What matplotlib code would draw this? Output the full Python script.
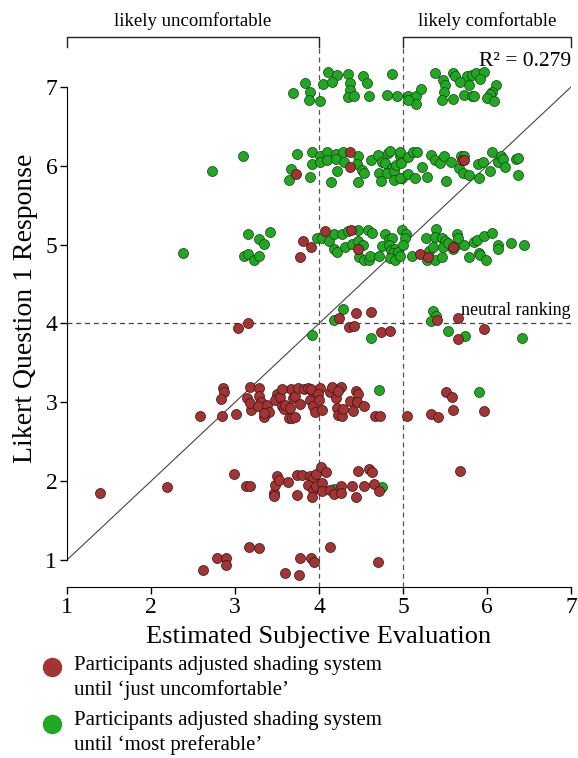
import matplotlib
matplotlib.use("Agg")
import matplotlib.pyplot as plt
from matplotlib.lines import Line2D

plt.rcParams['font.family'] = ['Liberation Serif', 'DejaVu Serif']

# estimated subjective evaluation (x) and Likert response (y)
red_x = [
    # row 6 / 5 / 4
    3.73, 4.37, 4.37, 5.70, 5.73,
    3.81, 3.90, 3.77, 4.07, 4.38, 4.47, 5.20, 5.30, 5.59,
    3.03, 3.16, 4.24, 4.36, 4.42, 4.44, 4.62, 4.74, 4.85, 5.41, 5.66, 5.96, 5.65,
    # row 3
    2.58, 2.84, 3.01, 2.86, 2.87, 2.83, 3.18, 3.29, 3.19, 3.14, 3.18, 3.29, 3.31, 3.27,
    3.38, 3.40, 3.35, 3.34, 3.50, 3.48, 3.54, 3.56, 3.58, 3.60, 3.66, 3.67, 3.56, 3.69,
    3.71, 3.77, 3.75, 3.82, 3.87, 3.89, 3.92, 3.93, 3.95, 3.90, 4.01, 3.99, 4.00, 4.04,
    3.64, 3.68, 3.71, 4.13, 4.16, 4.20, 4.21, 4.23, 4.27, 4.26, 4.29, 4.23, 4.37, 4.41,
    4.44, 4.47, 4.45, 4.53, 4.67, 4.73, 5.05, 5.33, 5.42, 5.51, 5.58, 5.59, 5.96,
    # row 2
    1.39, 2.19, 2.99, 3.13, 3.18, 3.47, 3.46, 3.48, 3.50, 3.52, 3.63, 3.74, 3.80, 3.74,
    3.89, 3.93, 3.97, 4.02, 4.08, 3.87, 3.93, 3.92, 3.97, 4.03, 4.03, 4.13, 4.18, 4.26,
    4.26, 4.39, 4.44, 4.46, 4.54, 4.60, 4.63, 4.66, 4.71, 5.68,
    # row 1
    2.62, 2.78, 2.89, 2.89, 3.17, 3.28, 3.60, 3.76, 3.77, 3.90, 3.94, 4.13, 4.70,
]
red_y = [
    5.90, 6.18, 5.99, 6.07, 6.08,
    5.05, 4.97, 4.84, 5.17, 5.19, 4.95, 4.88, 4.84, 4.97,
    3.94, 4.01, 4.07, 3.95, 3.97, 4.13, 4.15, 3.89, 3.90, 4.04, 4.07, 3.93, 3.80,
    2.83, 2.82, 2.85, 3.18, 3.13, 3.04, 3.19, 3.18, 2.90, 3.06, 2.99, 3.08, 3.01, 2.95,
    2.97, 2.88, 2.81, 2.87, 3.11, 3.03, 3.07, 2.95, 2.92, 2.97, 2.93, 3.17, 3.17, 3.05,
    3.08, 2.98, 3.18, 3.17, 3.18, 3.03, 3.14, 2.95, 2.88, 3.17, 3.18, 3.11, 3.03, 2.90,
    2.80, 2.80, 2.81, 3.13, 3.19, 3.05, 2.93, 2.84, 2.83, 3.19, 2.91, 3.14, 3.02, 2.89,
    3.14, 3.11, 3.01, 2.95, 2.82, 2.82, 2.83, 2.85, 2.81, 3.13, 3.07, 2.90, 2.89,
    1.85, 1.92, 2.09, 1.94, 1.94, 1.85, 1.81, 1.95, 2.06, 2.01, 1.99, 2.08, 2.08, 1.83,
    2.07, 2.04, 2.09, 2.18, 2.11, 1.95, 1.89, 1.80, 1.94, 1.98, 1.88, 1.89, 1.84, 1.94,
    1.85, 1.94, 1.80, 2.13, 1.94, 2.15, 2.12, 1.96, 1.88, 2.13,
    0.87, 1.03, 1.02, 0.94, 1.16, 1.15, 0.83, 0.81, 1.03, 1.02, 0.98, 1.16, 0.97,
]

green_x = [
    # row 7
    4.11, 4.21, 4.35, 4.52, 4.87, 3.83, 4.05, 4.15, 4.37, 4.57, 3.69, 3.89, 4.37, 3.88,
    4.01, 4.35, 4.42, 4.60, 4.81, 4.93, 5.06, 5.15, 5.22, 5.16, 5.06,
    5.38, 5.59, 5.62, 5.76, 5.82, 5.87, 5.96, 5.92, 5.48, 5.50, 5.68, 5.78, 6.11, 5.49,
    6.06, 6.04, 5.73, 5.82, 5.84, 5.47, 5.59, 6.00, 6.08,
    # row 6
    2.73, 3.10, 3.74, 3.67, 3.64, 3.89, 3.92, 3.92, 4.01, 4.01, 4.09, 4.10, 4.20, 4.20,
    4.28, 4.30, 4.21, 4.14, 4.47, 4.45, 4.51, 4.54, 4.46, 4.62, 4.70, 4.71, 4.74, 4.75,
    4.79, 4.82, 4.85, 4.87, 4.81, 4.89, 4.89, 4.92, 4.96, 4.97, 4.98, 4.99, 4.96, 5.06,
    5.06, 5.12, 5.17, 5.14, 5.23, 5.29, 5.33, 5.38, 5.44, 5.49, 5.51, 5.57, 5.67, 5.69,
    5.73, 5.72, 5.78, 5.91, 5.89, 5.95, 6.04, 6.06, 6.13, 6.17, 6.19, 6.21, 6.35, 6.37,
    6.37,
    # row 5
    2.38, 3.16, 3.29, 3.35, 3.42, 3.11, 3.15, 3.23, 3.29, 3.98, 4.03, 4.12, 4.18, 4.27,
    4.34, 4.47, 4.18, 4.22, 4.31, 4.39, 4.46, 4.52, 4.48, 4.53, 4.60, 4.61, 4.58, 4.63,
    4.71, 4.75, 4.79, 4.83, 4.87, 4.83, 4.86, 4.90, 4.88, 4.94, 4.85, 4.90, 4.97, 4.99,
    5.03, 5.02, 5.00, 5.11, 5.27, 5.31, 5.36, 5.39, 5.38, 5.47, 5.50, 5.48, 5.53, 5.59,
    5.63, 5.64, 5.65, 5.73, 5.78, 5.84, 5.88, 5.90, 5.92, 5.96, 5.99, 6.06, 6.13, 6.13,
    6.29, 6.44, 5.29, 5.38, 5.46,
    # row 4
    4.28, 4.18, 3.92, 4.62, 5.36, 5.39, 5.33, 5.54, 5.74, 6.42,
    # rows 3 and 2
    4.71, 5.90, 4.18, 4.75,
]
green_y = [
    7.19, 7.15, 7.17, 7.14, 7.16, 7.05, 7.04, 7.06, 7.05, 7.05, 6.93, 6.94, 6.96, 6.84,
    6.82, 6.87, 6.88, 6.88, 6.90, 6.89, 6.89, 6.89, 6.98, 6.79, 6.84,
    7.18, 7.18, 7.14, 7.14, 7.15, 7.18, 7.19, 7.10, 7.09, 7.02, 7.06, 7.03, 7.03, 6.94,
    6.94, 6.91, 6.90, 6.88, 6.88, 6.84, 6.85, 6.86, 6.82,
    5.93, 6.13, 6.15, 5.96, 5.82, 5.86, 6.17, 6.02, 6.12, 6.05, 6.17, 6.07, 6.15, 6.09,
    6.17, 6.05, 5.93, 5.80, 6.12, 6.02, 5.95, 5.91, 5.80, 6.07, 6.14, 5.91, 5.81, 6.05,
    6.04, 6.16, 6.19, 5.97, 5.91, 5.93, 5.82, 6.01, 6.13, 6.18, 6.03, 5.84, 5.84, 6.11,
    5.89, 6.18, 6.18, 5.84, 5.98, 5.86, 6.14, 6.07, 6.03, 6.12, 5.81, 6.05, 5.97, 6.12,
    6.13, 5.91, 5.88, 5.85, 6.02, 6.05, 5.94, 6.17, 6.05, 6.12, 6.09, 5.99, 6.09, 6.10,
    5.88,
    4.89, 5.14, 5.07, 5.01, 5.16, 4.85, 4.88, 4.81, 4.85, 5.08, 5.08, 5.05, 5.14, 5.14,
    5.17, 5.18, 4.95, 4.91, 4.97, 5.01, 5.04, 5.00, 4.84, 4.81, 4.80, 4.86, 5.18, 5.15,
    4.86, 4.98, 5.14, 5.07, 5.08, 5.00, 4.93, 4.95, 4.89, 4.91, 4.83, 4.81, 4.85, 5.19,
    5.14, 5.08, 5.00, 4.86, 5.08, 4.92, 4.97, 5.20, 5.10, 5.08, 5.04, 4.97, 5.02, 4.94,
    5.00, 5.14, 5.08, 4.99, 4.84, 5.03, 5.06, 4.89, 4.87, 5.11, 4.80, 5.15, 5.00, 4.94,
    5.02, 5.00, 4.81, 4.80, 4.84,
    4.18, 4.05, 3.85, 3.82, 4.16, 4.10, 4.03, 3.91, 3.84, 3.82,
    3.16, 3.13, 1.90, 1.92,
]

ticks = [1, 2, 3, 4, 5, 6, 7]
r_squared = 0.279

red_col = '#a33434'
green_col = '#22a722'

fig = plt.figure(figsize=(5.78, 7.58), dpi=100)
ax = fig.add_axes([67 / 578, 171 / 758, 504 / 578, 557 / 758])
ax.set_xlim(1, 7)
ax.set_ylim(0.657, 7.723)

# reference lines
ax.plot([1, 7], [1, 7], color='#444444', lw=0.8, zorder=1)
ax.plot([1, 7], [4, 4], color='#444444', lw=0.9, ls=(0, (4, 3)), zorder=1)
for xv in [4, 5]:
    ax.plot([xv, xv], [0.657, 7.51], color='#555555', lw=0.9, ls=(0, (4, 3)), zorder=1)

ax.scatter(red_x, red_y, s=52, c=red_col, edgecolors='#3a1010', linewidths=0.5, zorder=3)
ax.scatter(green_x, green_y, s=52, c=green_col, edgecolors='#104010', linewidths=0.5, zorder=2)

# brackets on top
for x0, x1, lab in [(1, 4, 'likely uncomfortable'), (5, 7, 'likely comfortable')]:
    ax.plot([x0, x0, x1, x1], [7.51, 7.634, 7.634, 7.51], color='#222222', lw=1.0, clip_on=False)
    ax.text((x0 + x1) / 2, 7.72, lab, ha='center', va='bottom', fontsize=13.5)

ax.text(7, 7.2, 'R\u00b2 = %.3f' % r_squared, ha='right', va='bottom', fontsize=15.5)
ax.text(7, 4.06, 'neutral ranking', ha='right', va='bottom', fontsize=13)

for s in ['top', 'right']:
    ax.spines[s].set_visible(False)
ax.spines['left'].set_bounds(1, 7)
ax.spines['bottom'].set_bounds(1, 7)
ax.set_xticks(ticks)
ax.set_yticks(ticks)
ax.tick_params(labelsize=17, length=5, width=1.0, pad=2)
ax.set_xlabel('Estimated Subjective Evaluation', fontsize=19, labelpad=6)
ax.set_ylabel('Likert Question 1 Response', fontsize=20, labelpad=5)

# legend: text laid out by fig.legend, markers placed next to the first line
blank = [Line2D([], [], marker='o', ls='', markersize=13, alpha=0) for _ in range(2)]
labels = ["Participants adjusted shading system\nuntil \u2018just uncomfortable\u2019",
          "Participants adjusted shading system\nuntil \u2018most preferable\u2019"]
leg = fig.legend(blank, labels, loc='upper left', bbox_to_anchor=(0.055, 0.146), frameon=False,
                 fontsize=15, handletextpad=0.45, labelspacing=0.55, borderaxespad=0, handlelength=1.2)
for t in leg.get_texts():
    t.set_linespacing(1.35)
for col, ypix in [(red_col, 667), (green_col, 724)]:
    fig.add_artist(Line2D([52 / 578], [1 - ypix / 758], marker='o', ls='', markersize=13,
                          markerfacecolor=col, markeredgecolor=col, transform=fig.transFigure))

fig.savefig('out.png', dpi=100)
